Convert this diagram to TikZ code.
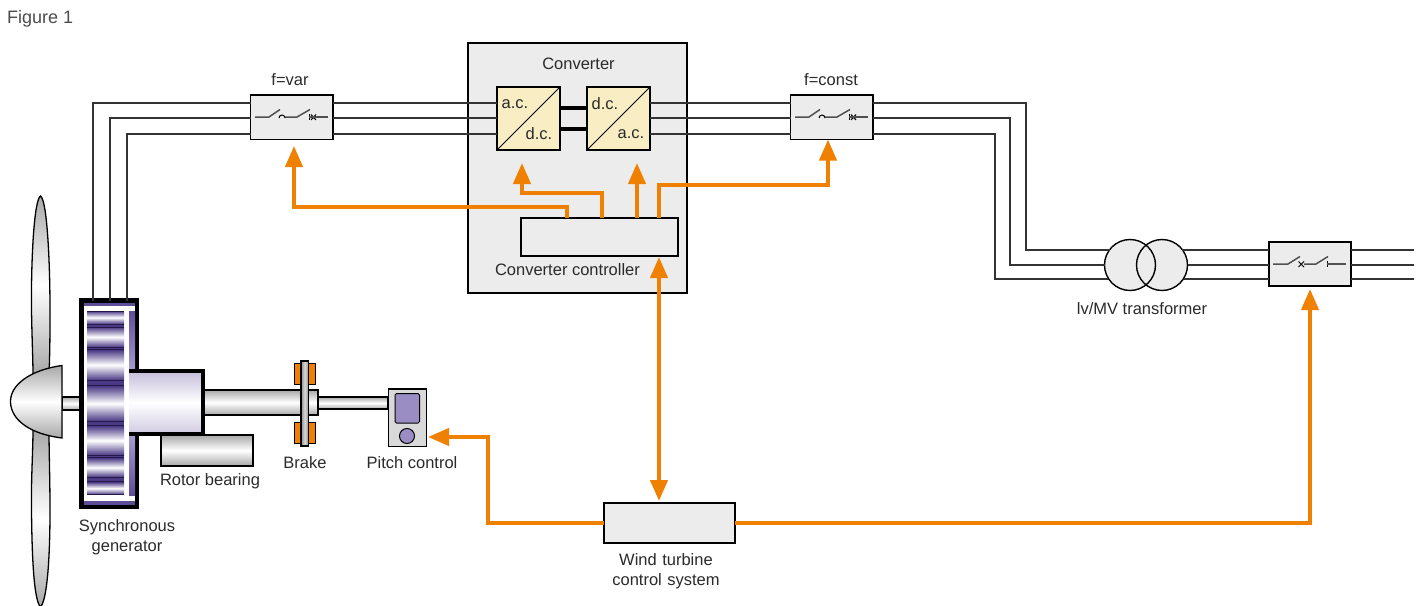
\documentclass[tikz,border=0pt]{standalone}
\usepackage{fontspec}
\setmainfont{Liberation Sans}
\usetikzlibrary{arrows.meta}
\definecolor{boxgray}{HTML}{ECECEC}
\definecolor{cream}{HTML}{F9EDC4}
\definecolor{ctrlorange}{HTML}{F08000}
\definecolor{inktext}{HTML}{2B2B2B}
\definecolor{swgray}{HTML}{505050}
\definecolor{bandpurple}{HTML}{4A3A85}
\definecolor{bandline}{HTML}{241848}
\definecolor{strippurple}{HTML}{5E4E98}
\definecolor{striplight}{HTML}{A9A0CE}
\definecolor{lavender}{HTML}{C4BDDA}
\definecolor{pitchpurple}{HTML}{9A8DC3}
\definecolor{metalgray}{HTML}{A8A8A8}
\newcommand{\pxbox}[6][]{\node[pxnode,#1,minimum width={(#5-#3)*1pt},minimum height={(#6-#4)*1pt}] (#2) at (#3,#4) {};}
\newcommand{\band}[2]{\shade[top color=bandpurple,bottom color=bandpurple,middle color=white] (87,#1) rectangle (124,#2);}
\newcommand{\bandrule}[2]{\fill[bandline] (87,#1) rectangle (124,#2);}
\tikzset{
  pxnode/.style={rectangle,anchor=north west,inner sep=0pt,outer sep=0pt},
  greybox/.style={draw=black,fill=boxgray,line width=1.5pt},
  convbox/.style={draw=black,fill=cream,line width=1.5pt},
  wire/.style={draw=black!80,line width=2pt,line join=miter},
  dclink/.style={draw=black,line width=3.2pt},
  ctl/.style={draw=ctrlorange,line width=4pt,line join=miter,-{Triangle[width=17pt,length=21pt,fill=ctrlorange]}},
  ctlboth/.style={draw=ctrlorange,line width=4pt,{Triangle[width=17pt,length=21pt,fill=ctrlorange]}-{Triangle[width=17pt,length=21pt,fill=ctrlorange]}},
  lbl/.style={font=\fontsize{16.5}{20}\selectfont,text=inktext,inner sep=0pt,align=center},
  swline/.style={draw=swgray,line width=1.5pt},
  swthin/.style={draw=black,line width=1pt},
  metal/.style={top color=metalgray,bottom color=metalgray,middle color=white},
}
\begin{document}
\begin{tikzpicture}[x=1pt,y=-1pt]
\useasboundingbox (0,0) rectangle (1424,605);
\fill[white] (0,0) rectangle (1424,605);

% ---- boxes
\pxbox[draw=black,fill=boxgray,line width=2pt]{conv}{467.5}{42.5}{687}{292.5}
\pxbox[convbox]{ac}{497}{87}{560}{150}
\pxbox[convbox]{dc}{587}{87}{650}{150}
\pxbox[greybox]{ctrl}{521}{218}{678}{256}
\pxbox[greybox]{swa}{250.5}{95}{333}{139.5}
\pxbox[greybox]{swb}{790.5}{95}{873}{139.5}
\pxbox[greybox]{swc}{1269}{242}{1351}{286}
\pxbox[greybox]{wtcs}{604}{503}{735}{543}

% transformer
\fill[boxgray] (1130,265) circle (25.5pt) (1162,265) circle (25.5pt);
\node[circle,draw=black,line width=1.4pt,minimum size=51pt,inner sep=0pt,outer sep=0pt] (ta) at (1130,265) {};
\node[circle,draw=black,line width=1.4pt,minimum size=51pt,inner sep=0pt,outer sep=0pt] (tb) at (1162,265) {};

% converter internals
\draw[line width=1pt] (ac.south west) -- (ac.north east);
\draw[line width=1pt] (dc.south west) -- (dc.north east);
\draw[dclink] (560,108) -- (587,108);
\draw[dclink] (560,129) -- (587,129);
\node[lbl] at (515,104) {a.c.};
\node[lbl] at (539,134) {d.c.};
\node[lbl] at (605,104) {d.c.};
\node[lbl] at (631,134) {a.c.};

% ---- rotor: blades, hub
\shade[metal,draw=black,line width=1.3pt] (40.5,196) .. controls (34,200) and (31,260) .. (31.5,310) .. controls (32,340) and (33,360) .. (33,375) -- (49,375) .. controls (50,350) and (50,330) .. (50,310) .. controls (50,260) and (47,200) .. (40.5,196) -- cycle;
\shade[metal,draw=black,line width=1.3pt] (33,430) .. controls (33,450) and (31,480) .. (31.5,510) .. controls (32,560) and (34,600) .. (40.5,607) .. controls (47,600) and (50,560) .. (50,510) .. controls (50,480) and (49,450) .. (49,430) -- cycle;
\shade[metal,draw=black,line width=1.2pt] (62,397) rectangle (80,410);
\shade[metal,draw=black,line width=1.3pt] (62,365.5) .. controls (30,370) and (10,385) .. (10.5,402) .. controls (11,420) and (30,434) .. (62,438) -- cycle;

% ---- drive train
\shade[metal,draw=black,line width=1.2pt] (318,397) rectangle (388,409);
\shade[metal,draw=black,line width=1.2pt] (204,390) rectangle (318,415);
\pxbox[draw=black,line width=1.2pt,top color=metalgray,bottom color=metalgray,middle color=white]{bearing}{161}{435}{253}{466}
\fill[ctrlorange,draw=black,line width=1pt] (294.5,363.5) rectangle (315,384);
\fill[ctrlorange,draw=black,line width=1pt] (294.5,422) rectangle (315,443);
\shade[left color=black!45,right color=black!45,middle color=black!15,draw=black,line width=1.2pt] (301,361) rectangle (308.5,446);
% pitch control
\pxbox[draw=black,fill=black!15,line width=1.3pt]{pitch}{388.5}{389}{426.5}{446.5}
\fill[pitchpurple,draw=black,line width=1pt,rounded corners=1.5pt] (395,393.5) rectangle (419.5,423);
\node[circle,draw=black,fill=pitchpurple,line width=1pt,minimum size=15pt,inner sep=0pt] (pitchknob) at (407,436) {};

% ---- generator
\pxbox[draw=black,fill=white,line width=4.5pt]{gen}{81.5}{300.5}{137}{507}
\fill[strippurple] (84,303) rectangle (135,306);
\fill[strippurple] (84,501) rectangle (135,505);
\shade[top color=strippurple,bottom color=striplight] (129,311) rectangle (135,372);
\shade[top color=striplight,bottom color=strippurple] (129,434) rectangle (135,495);
\band{311}{324}
\band{327}{347}
\band{350}{380}
\band{386}{421}
\band{426}{455}
\band{458}{477}
\band{482}{494.5}
\bandrule{311}{312}
\bandrule{323.7}{325}
\fill[bandpurple] (87,325) rectangle (124,326.5);
\bandrule{326.5}{327.7}
\bandrule{346.7}{348}
\fill[bandpurple] (87,348) rectangle (124,349);
\bandrule{349}{350.3}
\bandrule{379.5}{381}
\fill[bandpurple] (87,381) rectangle (124,385);
\bandrule{385}{386.3}
\bandrule{420.5}{421.8}
\fill[bandpurple] (87,421.8) rectangle (124,425);
\bandrule{425}{426.3}
\bandrule{454.5}{455.8}
\fill[bandpurple] (87,455.8) rectangle (124,457);
\bandrule{457}{458.3}
\bandrule{476.6}{478}
\fill[bandpurple] (87,478) rectangle (124,480.5);
\bandrule{480.5}{482}
\bandrule{493.8}{495}
% bearing housing
\pxbox[top color=lavender,bottom color=lavender!80,middle color=white]{house}{129}{371}{203}{434}
\draw[line width=4.5pt,line join=miter] (129,371) -- (203,371) -- (203,434) -- (129,434);

% ---- power wiring
\draw[wire] (92.5,0 |- gen.north) |- (swa.west |- 0,102.5);
\draw[wire] (109.5,0 |- gen.north) |- (swa.west |- 0,117.5);
\draw[wire] (126.5,0 |- gen.north) |- (swa.west |- 0,133.5);
\foreach \wy in {102.5,117.5,133.5}{
  \draw[wire] (swa.east |- 0,\wy) -- (ac.west |- 0,\wy);
  \draw[wire] (dc.east |- 0,\wy) -- (swb.west |- 0,\wy);
}
\coordinate (busend) at (1414,0);
\draw[wire] (swb.east |- 0,102.5) -| (1025.5,249.5) -- (ta.141 |- 0,249.5);
\draw[wire] (swb.east |- 0,117.5) -| (1009.5,264.5) -- (ta.west |- 0,264.5);
\draw[wire] (swb.east |- 0,133.5) -| (994.5,278.5) -- (ta.211 |- 0,278.5);
\draw[wire] (tb.39 |- 0,249.5) -- (swc.west |- 0,249.5);
\draw[wire] (tb.east |- 0,264.5) -- (swc.west |- 0,264.5);
\draw[wire] (tb.-31 |- 0,278.5) -- (swc.west |- 0,278.5);
\draw[wire] (swc.east |- 0,249.5) -- (busend |- 0,249.5);
\draw[wire] (swc.east |- 0,264.5) -- (busend |- 0,264.5);
\draw[wire] (swc.east |- 0,278.5) -- (busend |- 0,278.5);

% ---- switch symbols
\draw[swline] (255,117) -- (269,117) -- (280,109.5);
\draw[swline] (285,117) -- (297,117) -- (310,109.5);
\draw[swthin] (279,118) arc[start angle=180,end angle=0,radius=3pt];
\draw[swthin] (309,113.5) -- (309,120);
\draw[swthin] (311,114.5) -- (316,120) (316,114.5) -- (311,120);
\draw[swline] (309,117) -- (328,117);

\draw[swline] (795,117) -- (809,117) -- (820,109.5);
\draw[swline] (825,117) -- (837,117) -- (850,109.5);
\draw[swthin] (819,118) arc[start angle=180,end angle=0,radius=3pt];
\draw[swthin] (849,113.5) -- (849,120);
\draw[swthin] (851,114.5) -- (856,120) (856,114.5) -- (851,120);
\draw[swline] (849,117) -- (868,117);

\draw[swline] (1273,264) -- (1288,264) -- (1300,256.5);
\draw[swline] (1304,264) -- (1316,264) -- (1328,256.5);
\draw[swthin] (1298.5,261.5) -- (1304,267) (1304,261.5) -- (1298.5,267);
\draw[swthin] (1327,260.5) -- (1327,267);
\draw[swline] (1327,264) -- (1346,264);

% ---- control connectors
\coordinate (swatip) at (294,146);
\coordinate (actip) at (522,163);
\coordinate (dctip) at (637,163);
\coordinate (swctip) at (1310,289);
\coordinate (pitchtip) at (428,437);
\draw[ctl] (567,0 |- ctrl.north) -- (567,207) -- (294,207) -- (swatip);
\draw[ctl] (602,0 |- ctrl.north) -- (602,192.5) -- (522,192.5) -- (actip);
\draw[ctl] (637,0 |- ctrl.north) -- (dctip);
\draw[ctl] (659,0 |- ctrl.north) -- (659,185) -- (828,185) -- (828,0 |- swb.south);
\draw[ctlboth] (659,257) -- (659,501);
\draw[ctl] (wtcs.west |- 0,523) -- (488,523) -- (488,437) -- (pitchtip);
\draw[ctl] (wtcs.east |- 0,523) -- (1310,523) -- (swctip);

% ---- labels
\node[lbl,anchor=west,text=black!70,font=\fontsize{18}{20}\selectfont] (figlabel) at (7,18.5) {Figure 1};
\node[lbl] (lconv) at (578.5,64) {Converter};
\node[lbl] (lvar) at (290,80) {f=var};
\node[lbl] (lconst) at (831,80) {f=const};
\node[lbl] (lctrl) at (567.5,270) {Converter controller};
\node[lbl] (ltrafo) at (1142,309) {lv/MV transformer};
\node[lbl] (lbear) at (210,481) {Rotor bearing};
\node[lbl] (lbrake) at (305,463) {Brake};
\node[lbl] (lpitch) at (412,463) {Pitch control};
\node[lbl,text width=120pt] (lgen) at (127,537) {Synchronous\\generator};
\node[lbl,text width=140pt] (lwtcs) at (666,571) {Wind turbine\\control system};
\end{tikzpicture}
\end{document}
